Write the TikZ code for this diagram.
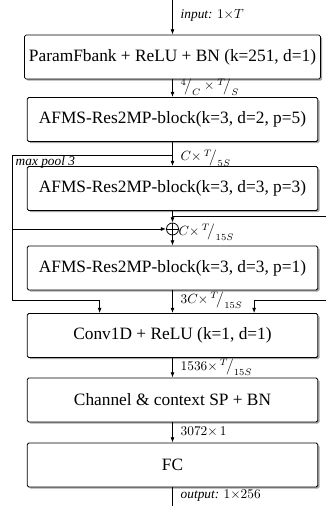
\documentclass[tikz,border=0pt]{standalone}
\usepackage{fontspec}
\setmainfont{Liberation Serif}
\usetikzlibrary{arrows.meta,shadows,calc}
\newcommand{\slfrac}[2]{{}^{#1}\!\big/_{#2}}

\begin{document}
\begin{tikzpicture}[x=0.75pt,y=-0.75pt,line width=0.6pt,
    blk/.style={draw,rounded corners=1.2pt,fill=white,minimum width=218pt,minimum height=33pt,
        drop shadow={shadow xshift=1.3pt,shadow yshift=-1.3pt,opacity=0.7},font=\fontsize{13}{15}\selectfont},
    arr/.style={-{Latex[length=4pt,width=3pt]}},
    lbl/.style={anchor=west,inner sep=1pt,font=\fontsize{10}{12}\selectfont}]
    \useasboundingbox (0,0) rectangle (325,506);
    % blocks
    \node[blk] (fbank) at (172.5,57) {ParamFbank + ReLU + BN (k=251, d=1)};
    \node[blk] (res1) at (172.5,119.5) {AFMS-Res2MP-block(k=3, d=2, p=5)};
    \node[blk] (res2) at (172.5,188.5) {AFMS-Res2MP-block(k=3, d=3, p=3)};
    \node[blk] (res3) at (172.5,268) {AFMS-Res2MP-block(k=3, d=3, p=1)};
    \node[blk] (conv) at (172.5,335.5) {Conv1D + ReLU (k=1, d=1)};
    \node[blk] (pool) at (172.5,400) {Channel \& context SP + BN};
    \node[blk] (fc) at (172.5,465) {FC};
    \node[draw,circle,minimum size=9pt,inner sep=0pt,line width=0.6pt,
        path picture={\draw (path picture bounding box.north) -- (path picture bounding box.south)
        (path picture bounding box.west) -- (path picture bounding box.east);}] (sum) at (172.5,229) {};
    \coordinate (in) at (172.5,0);
    \coordinate (out) at (172.5,506);
    \coordinate (tap1) at (172.5,155);
    \coordinate (tl) at (12,155);
    \coordinate (bl) at (12,300);
    \coordinate (tap2) at (172.5,216);
    \coordinate (tr) at (332,216);
    \coordinate (br) at (332,300);
    % main path
    \draw[arr] (in) -- (fbank);
    \draw[arr] (fbank) -- (res1);
    \draw[arr] (res1) -- (res2);
    \draw[arr] (res2) -- (sum);
    \draw[arr] (sum) -- (res3);
    \draw[arr] (res3) -- (conv);
    \draw[arr] (conv) -- (pool);
    \draw[arr] (pool) -- (fc);
    \draw (fc) -- (out);
    % skip connections
    \draw[arr] (tap1) -- (tl) -- (bl) -| ($(conv.north west)!0.25!(conv.north east)$);
    \draw[arr] (sum.west -| tl) -- (sum);
    \draw[arr] (tap2) -- (tr) -- (br) -| ($(conv.north west)!0.78!(conv.north east)$);
    % labels
    \node[lbl] (l0) at (179,15) {\textit{input:} $1{\times}T$};
    \node[lbl] (l1) at (179,87) {$\slfrac{4}{C}\times\slfrac{T}{S}$};
    \node[lbl] (l2) at (179,158) {$C{\times}\,\slfrac{T}{5S}$};
    \node[lbl] (l3) at (177,232) {$C{\times}\,\slfrac{T}{15S}$};
    \node[lbl] (l4) at (179,300) {$3C{\times}\,\slfrac{T}{15S}$};
    \node[lbl] (l5) at (179,367) {$1536{\times}\,\slfrac{T}{15S}$};
    \node[lbl] (l6) at (179,432) {$3072{\times}\,1$};
    \node[lbl] (l7) at (179,496) {\textit{output:} $1{\times}256$};
    \node[lbl,anchor=north west] (mp) at (14,155) {\textit{max pool 3}};
\end{tikzpicture}
\end{document}
